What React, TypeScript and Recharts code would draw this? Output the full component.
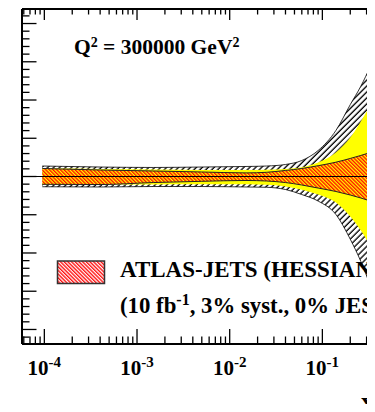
import React from 'react';
import { ComposedChart, Area, XAxis, YAxis, ReferenceLine } from 'recharts';

// x (momentum fraction) sample points
const xValues = [9.5e-5, 4e-4, 1.5e-3, 5e-3, 0.015, 0.025, 0.04, 0.06, 0.09, 0.14, 0.2, 0.26, 0.33];
// relative uncertainties in % (upper / lower half widths)
const outerUp = [1.37, 1.24, 1.18, 1.24, 1.31, 1.37, 1.57, 2.09, 3.4, 6.02, 9.4, 11.8, 14.4];
const outerDn = [1.34, 1.37, 1.31, 1.31, 1.37, 1.41, 1.7, 2.36, 3.21, 4.97, 8.2, 11.1, 14.3];
const yellowUp = [1.07, 0.98, 0.92, 0.85, 0.85, 0.89, 0.98, 1.2, 1.83, 3.14, 5.1, 7.2, 9.36];
const yellowDn = [1.07, 1.05, 1.05, 1.02, 1.02, 1.09, 1.31, 1.74, 2.36, 3.4, 5.24, 7.07, 9.16];
const innerUp = [1.05, 0.85, 0.72, 0.59, 0.47, 0.55, 0.79, 1.05, 1.41, 1.87, 2.36, 2.75, 3.14];
const innerDn = [1.02, 1.05, 0.79, 0.63, 0.52, 0.59, 0.79, 1.11, 1.51, 1.96, 2.42, 2.81, 3.21];

const xMajor = [1e-4, 1e-3, 1e-2, 1e-1];
const xExp = ['-4', '-3', '-2', '-1'];
const xDomain = [5.74e-5, 0.44];
const yDomain = [-21.9, 21.9];
const yMajor = [-20, -15, -10, -5, 0, 5, 10, 15, 20];

const xTicks: number[] = [];
[1e-5, 1e-4, 1e-3, 1e-2, 1e-1].forEach((d) => {
  for (let k = 1; k <= 9; k++) {
    const v = +(k * d).toPrecision(3);
    if (v >= xDomain[0] && v <= xDomain[1]) xTicks.push(v);
  }
});
const yTicks: number[] = [];
for (let v = -21; v <= 21; v++) yTicks.push(v);

const data = xValues.map((x, i) => ({
  x,
  outer: [-outerDn[i], outerUp[i]],
  yellow: [-yellowDn[i], yellowUp[i]],
  inner: [-innerDn[i], innerUp[i]],
}));

const FONT = '"Liberation Serif", "Times New Roman", serif';

const isMajorX = (v: number) => xMajor.findIndex((m) => Math.abs(v - m) / m < 1e-6);
const isMajorY = (v: number) => yMajor.some((m) => Math.abs(v - m) < 1e-6);

const BottomTick = (props: any) => {
  const { x, y, payload } = props;
  const idx = isMajorX(payload.value);
  const major = idx >= 0;
  return (
    <g>
      <line x1={x} x2={x} y1={y} y2={y - (major ? 15 : 7.5)} stroke="#000" strokeWidth={1.3} />
      {major && (
        <text x={x} y={y + 31} textAnchor="middle" fontFamily={FONT} fontWeight="bold" fontSize={21} fill="#000">
          10
          <tspan dy={-8} fontSize={15}>
            {xExp[idx]}
          </tspan>
        </text>
      )}
    </g>
  );
};

const TopTick = (props: any) => {
  const { x, y, payload } = props;
  const major = isMajorX(payload.value) >= 0;
  return <line x1={x} x2={x} y1={y} y2={y + (major ? 11 : 5.5)} stroke="#000" strokeWidth={1.3} />;
};

const LeftTick = (props: any) => {
  const { x, y, payload } = props;
  const major = isMajorY(payload.value);
  return <line x1={x} x2={x + (major ? 14.5 : 7.5)} y1={y} y2={y} stroke="#000" strokeWidth={1.3} />;
};

const RightTick = (props: any) => {
  const { x, y, payload } = props;
  const major = isMajorY(payload.value);
  return <line x1={x} x2={x - (major ? 14.5 : 7.5)} y1={y} y2={y} stroke="#000" strokeWidth={1.3} />;
};

const PatternDefs = () => (
  <defs>
    <pattern id="blackHatch" patternUnits="userSpaceOnUse" width={4.2} height={4.2} patternTransform="rotate(45)">
      <rect x={0} y={0} width={4.2} height={4.2} fill="#fff" />
      <line x1={1} y1={0} x2={1} y2={4.2} stroke="#000" strokeWidth={1.3} />
    </pattern>
    <pattern id="redHatch" patternUnits="userSpaceOnUse" width={2.6} height={2.6} patternTransform="rotate(-45)">
      <line x1={0.7} y1={0} x2={0.7} y2={2.6} stroke="#ff0000" strokeWidth={1.3} />
    </pattern>
    <pattern id="redHatchW" patternUnits="userSpaceOnUse" width={2.6} height={2.6} patternTransform="rotate(-45)">
      <rect x={0} y={0} width={2.6} height={2.6} fill="#fff" />
      <line x1={0.7} y1={0} x2={0.7} y2={2.6} stroke="#ff0000" strokeWidth={1.3} />
    </pattern>
  </defs>
);

export default function App() {
  return (
    <div style={{ margin: -8, width: 375, height: 412, overflow: 'hidden', position: 'relative', background: '#fff' }}>
      <ComposedChart width={400} height={412} data={data} margin={{ top: 0, right: 0, bottom: 0, left: 0 }}>
        {PatternDefs()}
        <XAxis
          dataKey="x"
          type="number"
          scale="log"
          domain={xDomain}
          allowDataOverflow
          ticks={xTicks}
          interval={0}
          tickSize={0}
          tickMargin={0}
          tick={<BottomTick />}
          axisLine={{ stroke: '#000', strokeWidth: 2 }}
          tickLine={false}
          height={68}
        />
        <XAxis
          xAxisId="top"
          orientation="top"
          dataKey="x"
          type="number"
          scale="log"
          domain={xDomain}
          allowDataOverflow
          ticks={xTicks}
          interval={0}
          tickSize={0}
          tickMargin={0}
          tick={<TopTick />}
          axisLine={{ stroke: '#000', strokeWidth: 2 }}
          tickLine={false}
          height={9}
        />
        <YAxis
          type="number"
          domain={yDomain}
          allowDataOverflow
          ticks={yTicks}
          interval={0}
          tickSize={0}
          tickMargin={0}
          tick={<LeftTick />}
          axisLine={{ stroke: '#000', strokeWidth: 2 }}
          tickLine={false}
          width={22}
        />
        <YAxis
          yAxisId="r"
          orientation="right"
          type="number"
          domain={yDomain}
          allowDataOverflow
          ticks={yTicks}
          interval={0}
          tickSize={0}
          tickMargin={0}
          tick={<RightTick />}
          axisLine={{ stroke: '#000', strokeWidth: 2 }}
          tickLine={false}
          width={18}
        />
        <Area
          dataKey="outer"
          type="monotone"
          fill="url(#blackHatch)"
          fillOpacity={1}
          stroke="#000"
          strokeWidth={0.8}
          isAnimationActive={false}
          dot={false}
          activeDot={false}
        />
        <Area
          dataKey="yellow"
          type="monotone"
          fill="#ffff00"
          fillOpacity={1}
          stroke="none"
          isAnimationActive={false}
          dot={false}
          activeDot={false}
        />
        <Area
          dataKey="inner"
          type="monotone"
          fill="url(#redHatch)"
          fillOpacity={1}
          stroke="#222"
          strokeWidth={1}
          isAnimationActive={false}
          dot={false}
          activeDot={false}
        />
        <ReferenceLine y={0} stroke="#000" strokeWidth={1} ifOverflow="hidden" />
      </ComposedChart>
      <svg width={375} height={412} style={{ position: 'absolute', left: 0, top: 0, pointerEvents: 'none' }}>
        {PatternDefs()}
        <text x={74} y={54} fontFamily={FONT} fontWeight="bold" fontSize={21.5} fill="#000">
          Q<tspan dy={-7.5} fontSize={14}>2</tspan>
          <tspan dy={7.5}> = 300000 GeV</tspan>
          <tspan dy={-7.5} fontSize={14}>2</tspan>
        </text>
        <rect x={57.5} y={261} width={47} height={22.5} fill="url(#redHatchW)" stroke="#333" strokeWidth={1.5} />
        <text x={120} y={277} fontFamily={FONT} fontWeight="bold" fontSize={23} fill="#000">
          ATLAS-JETS (HESSIAN)
        </text>
        <text x={120} y={313} fontFamily={FONT} fontWeight="bold" fontSize={22.8} fill="#000">
          (10 fb<tspan dy={-8.5} fontSize={16}>-1</tspan>
          <tspan dy={8.5}>, 3% syst., 0% JES)</tspan>
        </text>
        <text x={361} y={410} fontFamily={FONT} fontWeight="bold" fontSize={26} fill="#000">
          x
        </text>
      </svg>
    </div>
  );
}
